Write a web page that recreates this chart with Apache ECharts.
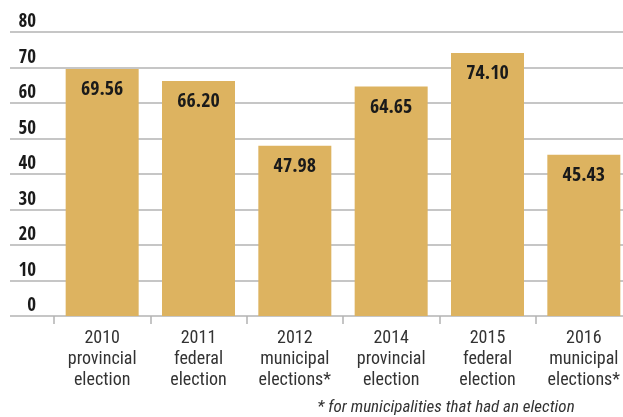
<!DOCTYPE html>
<html>
<head>
<meta charset="utf-8">
<script src="https://cdn.jsdelivr.net/npm/echarts@6/dist/echarts.min.js"></script>
<style>html,body{margin:0;padding:0;background:#fff}#c{width:623px;height:417px}</style>
</head>
<body>
<div id="c"></div>
<script>
const categories = [
  "2010\nprovincial\nelection",
  "2011\nfederal\nelection",
  "2012\nmunicipal\nelections*",
  "2014\nprovincial\nelection",
  "2015\nfederal\nelection",
  "2016\nmunicipal\nelections*"
];
const turnout = [69.56, 66.20, 47.98, 64.65, 74.10, 45.43];
const footnote = "* for municipalities that had an election";
const yMin = 0, yMax = 80, yStep = 10;

const BOLD = '"Open Sans Condensed", "Roboto Condensed", sans-serif';
const REG = '"Roboto Condensed", sans-serif';
const chart = echarts.init(document.getElementById('c'));
chart.setOption({
  animation: false,
  grid: [
    { left: 10, right: 0, top: 32, bottom: 101, outerBoundsMode: 'none' },
    { left: 54, width: 578, top: 32, bottom: 101, outerBoundsMode: 'none' }
  ],
  xAxis: [
    { gridIndex: 0, type: 'value', show: false, min: 0, max: 1 },
    {
      gridIndex: 1, type: 'category', data: categories,
      axisLine: { show: false },
      axisTick: { show: true, interval: 0, length: 8, lineStyle: { color: '#b3b3b3', width: 1.5 } },
      axisLabel: { interval: 0, margin: 12, fontFamily: REG, fontSize: 18, lineHeight: 21, color: '#333' }
    }
  ],
  yAxis: [
    {
      gridIndex: 0, type: 'value', min: yMin, max: yMax, interval: yStep,
      axisLine: { show: false }, axisTick: { show: false }, axisLabel: { show: false },
      splitLine: { show: true, lineStyle: { color: '#b3b3b3', width: 1.5 } }
    },
    {
      gridIndex: 1, type: 'value', min: yMin, max: yMax, interval: yStep,
      axisLine: { show: false }, axisTick: { show: false },
      splitLine: { show: false },
      axisLabel: { margin: 18, fontFamily: BOLD, fontSize: 19, fontWeight: 'bold', color: '#1a1a1a',
        verticalAlign: 'bottom', lineHeight: 19, padding: [0, 0, 0, 0] }
    }
  ],
  series: [{
    type: 'bar', xAxisIndex: 1, yAxisIndex: 1, data: turnout, barWidth: 73,
    itemStyle: { color: '#DDB360' },
    label: { show: true, position: 'insideTop', distance: 11, fontFamily: BOLD, fontSize: 20,
      fontWeight: 'bold', color: '#1a1a1a', formatter: p => p.value.toFixed(2) }
  }],
  graphic: [{
    type: 'text', x: 446, y: 408,
    style: { text: footnote, fontFamily: REG, fontSize: 17, fontStyle: 'italic', fill: '#333',
      textAlign: 'center', textVerticalAlign: 'middle' }
  }]
});
</script>
</body>
</html>
